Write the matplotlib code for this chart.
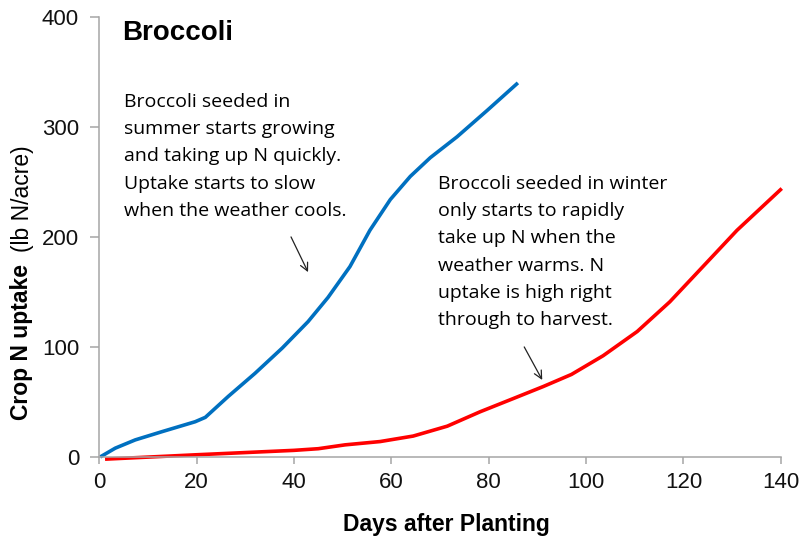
import matplotlib
matplotlib.use("Agg")
import matplotlib.pyplot as plt

# summer-seeded broccoli (days after planting, lb N/acre)
summer_days = [0.2, 3.3, 7.4, 12.9, 19.7, 21.8, 26.5, 32, 37.6, 42.9, 47, 51.5,
               55.6, 59.8, 63.9, 68, 73.5, 79.7, 86]
summer_n = [0, 8, 15.5, 23, 32, 36, 55, 76, 99, 123, 145, 173,
            206, 234, 255, 272, 291, 315, 340]

# winter-seeded broccoli
winter_days = [1.2, 20, 40, 45, 50.5, 57.7, 64.5, 71.5, 78.2, 85, 91.2, 97,
               103.5, 110.5, 117.2, 124, 131, 140.2]
winter_n = [-2, 2, 6, 7.5, 11, 14, 19, 28, 41, 53, 64, 75,
            92, 114, 141, 173, 206, 244]

x_ticks = [0, 20, 40, 60, 80, 100, 120, 140]
y_ticks = [0, 100, 200, 300, 400]

note_summer = ("Broccoli seeded in\nsummer starts growing\nand taking up N quickly.\n"
               "Uptake starts to slow\nwhen the weather cools.")
note_winter = ("Broccoli seeded in winter\nonly starts to rapidly\ntake up N when the\n"
               "weather warms. N\nuptake is high right\nthrough to harvest.")

plt.rcParams['font.family'] = ['Liberation Sans', 'DejaVu Sans']

fig = plt.figure(figsize=(8, 5.44), dpi=100)
ax = fig.add_axes([0.124, 0.160, 0.852, 0.809])

ax.plot(summer_days, summer_n, color="#0070C0", lw=2.6, clip_on=False,
        solid_joinstyle="round", solid_capstyle="butt")
ax.plot(winter_days, winter_n, color="#FF0000", lw=2.6, clip_on=False,
        solid_joinstyle="round", solid_capstyle="butt")

ax.set_xlim(0, 140)
ax.set_ylim(0, 400)
ax.set_xticks(x_ticks)
ax.set_yticks(y_ticks)
ax.tick_params(axis="both", labelsize=16, color="#a6a6a6", width=1.1,
               labelcolor="#111111")
ax.tick_params(axis="x", length=5, pad=6)
ax.tick_params(axis="y", length=6.5, pad=8)
for s in ["top", "right"]:
    ax.spines[s].set_visible(False)
for s in ["left", "bottom"]:
    ax.spines[s].set_color("#a6a6a6")
    ax.spines[s].set_linewidth(1.1)

ax.text(0.034, 0.964, "Broccoli", transform=ax.transAxes, fontsize=20,
        fontweight="bold", va="center", ha="left")

ax.text(0.037, 0.827, note_summer, transform=ax.transAxes, fontsize=14,
        family=["Open Sans", "DejaVu Sans"], va="top", ha="left", linespacing=1.66)
ax.text(0.497, 0.641, note_winter, transform=ax.transAxes, fontsize=14,
        family=["Open Sans", "DejaVu Sans"], va="top", ha="left", linespacing=1.66)

ax.annotate("", xy=(42.9, 168), xytext=(39.4, 200),
            arrowprops=dict(arrowstyle="->", color="#222222", lw=0.9,
                            mutation_scale=14, shrinkA=0, shrinkB=0))
ax.annotate("", xy=(91, 70), xytext=(87.3, 100),
            arrowprops=dict(arrowstyle="->", color="#222222", lw=0.9,
                            mutation_scale=14, shrinkA=0, shrinkB=0))

fig.text(446 / 800, 1 - 525 / 544, "Days after Planting", fontsize=16.5,
         fontweight="bold", ha="center", va="center")

fig.text(22 / 800, 1 - 341.5 / 544, "Crop N uptake", rotation=90, fontsize=16.5,
         fontweight="bold", ha="center", va="center")
fig.text(22 / 800, 1 - 199 / 544, "(lb N/acre)", rotation=90, fontsize=16.5,
         ha="center", va="center")

fig.savefig("out.png", dpi=100)
